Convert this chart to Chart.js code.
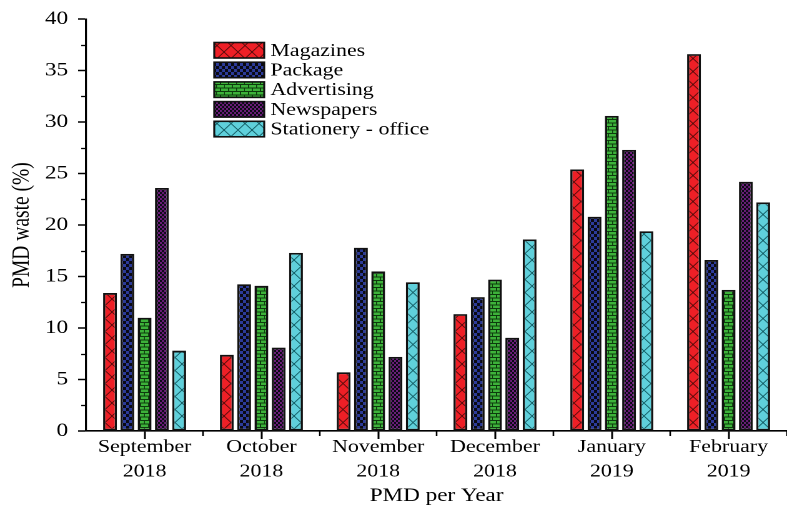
<!DOCTYPE html>
<html>
<head>
<meta charset="utf-8">
<script src="https://cdn.jsdelivr.net/npm/chart.js@4.4.1/dist/chart.umd.min.js"></script>
<style>
  html, body { margin: 0; padding: 0; background: #fff; overflow: hidden; }
  #wrap { width: 630px; height: 508px; transform: scaleX(1.2492); transform-origin: 0 0; }
  canvas { display: block; }
</style>
</head>
<body>
<div id="wrap"><canvas id="chart" width="630" height="508"></canvas></div>
<script>
// Monthly PMD waste shares (%), September 2018 - February 2019
const months = ['September', 'October', 'November', 'December', 'January', 'February'];
const years = ['2018', '2018', '2018', '2018', '2019', '2019'];
const seriesNames = ['Magazines', 'Package', 'Advertising', 'Newspapers', 'Stationery - office'];
const magazines   = [13.4, 7.4, 5.7, 11.35, 25.4, 36.6];
const packaging   = [17.2, 14.25, 17.8, 13.0, 20.8, 16.6];
const advertising = [11.0, 14.1, 15.5, 14.7, 30.6, 13.7];
const newspapers  = [23.6, 8.1, 7.2, 9.05, 27.3, 24.2];
const stationery  = [7.8, 17.3, 14.45, 18.6, 19.4, 22.2];
const yTicks = [0, 5, 10, 15, 20, 25, 30, 35, 40];

const SX = 1.2492;           // horizontal stretch applied to the wrapper
const FONT = "'Liberation Serif', 'Times New Roman', serif";

// ---- hatch fills -------------------------------------------------------
function makeTile(w, h, draw) {
  const c = document.createElement('canvas');
  c.width = w * 4; c.height = h * 4;
  const g = c.getContext('2d');
  g.scale(4, 4);
  draw(g, w, h);
  const p = document.createElement('canvas').getContext('2d').createPattern(c, 'repeat');
  p.setTransform(new DOMMatrix([0.25 / SX, 0, 0, 0.25, 0, 0]));
  return p;
}
function crossHatch(fill, line) {
  return makeTile(14, 13, (g, w, h) => {
    g.fillStyle = fill; g.fillRect(0, 0, w, h);
    g.strokeStyle = line; g.lineWidth = 0.9;
    g.beginPath();
    g.moveTo(0, 0); g.lineTo(w, h);
    g.moveTo(w, 0); g.lineTo(0, h);
    g.stroke();
  });
}
function checker(fill, cell) {
  return makeTile(cell * 2, cell * 2, (g, w, h) => {
    g.fillStyle = fill; g.fillRect(0, 0, w, h);
    g.fillStyle = '#0a0a14';
    g.fillRect(0, 0, cell, cell);
    g.fillRect(cell, cell, cell, cell);
  });
}
function bricks(fill, line) {
  return makeTile(8, 7, (g, w, h) => {
    g.fillStyle = fill; g.fillRect(0, 0, w, h);
    g.fillStyle = line;
    g.fillRect(0, 0, w, 1);
    g.fillRect(0, 3.5, w, 1);
    g.fillRect(0, 0, 1, 3.5);
    g.fillRect(4, 3.5, 1, 3.5);
  });
}

const fills = [
  crossHatch('#ee1f26', '#5a0c0c'),
  checker('#2c3b9a', 3),
  bricks('#3db23a', '#0d3a0d'),
  checker('#6a1d78', 2),
  crossHatch('#5fd0db', '#145e66')
];
const values = [magazines, packaging, advertising, newspapers, stationery];

// ---- minor ticks + legend ---------------------------------------------
const decorations = {
  id: 'decorations',
  afterDraw(chart) {
    const ctx = chart.ctx;
    const x = chart.scales.x, y = chart.scales.y;
    ctx.save();
    ctx.strokeStyle = '#000';
    // y minor ticks
    ctx.lineWidth = 1.3;
    for (let v = 2.5; v < 40; v += 5) {
      const py = Math.round(y.getPixelForValue(v)) + 0.5;
      ctx.beginPath(); ctx.moveTo(x.left - 4, py); ctx.lineTo(x.left, py); ctx.stroke();
    }
    // x minor ticks at category boundaries
    for (let i = 0; i < months.length; i++) {
      const px = (x.getPixelForValue(i) + x.getPixelForValue(i + 1)) / 2;
      ctx.beginPath(); ctx.moveTo(px, y.bottom); ctx.lineTo(px, y.bottom + 5); ctx.stroke();
    }
    // legend
    const bx = 171.5, bw = 40, bh = 15.5, top0 = 42.5, step = 19.7;
    ctx.font = '17.5px ' + FONT;
    ctx.textBaseline = 'middle';
    ctx.textAlign = 'left';
    chart.data.datasets.forEach((ds, i) => {
      const ty = top0 + i * step;
      ctx.fillStyle = ds.backgroundColor;
      ctx.fillRect(bx, ty, bw, bh);
      ctx.lineWidth = 1.6;
      ctx.strokeStyle = '#111';
      ctx.strokeRect(bx, ty, bw, bh);
      ctx.fillStyle = '#000';
      ctx.fillText(ds.label, bx + 45, ty + bh / 2 + 1);
    });
    ctx.restore();
  }
};

new Chart(document.getElementById('chart'), {
  type: 'bar',
  data: {
    labels: months.map((m, i) => [m, years[i]]),
    datasets: seriesNames.map((name, i) => ({
      label: name,
      data: values[i],
      backgroundColor: fills[i],
      borderColor: '#111',
      borderWidth: 1.8,
      borderSkipped: false,
      categoryPercentage: 0.74,
      barPercentage: 0.8
    }))
  },
  options: {
    responsive: false,
    animation: false,
    devicePixelRatio: 2,
    layout: { padding: { top: 19, right: -7, left: 0, bottom: 0 } },
    plugins: { legend: { display: false }, tooltip: { enabled: false } },
    scales: {
      x: {
        offset: true,
        grid: { display: true, offset: false, drawOnChartArea: false, drawTicks: true,
                tickLength: 8, color: '#000', tickWidth: 1.5 },
        border: { display: true, color: '#000', width: 1.6 },
        ticks: { color: '#000', font: { family: FONT, size: 17.5, lineHeight: 1.4 },
                 padding: -4, autoSkip: false, maxRotation: 0, minRotation: 0 },
        title: { display: true, text: 'PMD per Year', color: '#000',
                 font: { family: FONT, size: 18.5 }, padding: { top: 0, bottom: 1 } },
        afterFit(s) { s.height = 77; s.paddingLeft = 0; s.paddingRight = 0; }
      },
      y: {
        min: 0, max: 40,
        afterBuildTicks(s) { s.ticks = yTicks.map(v => ({ value: v })); },
        grid: { display: true, drawOnChartArea: false, drawTicks: true,
                tickLength: 6.5, color: '#000', tickWidth: 1.5 },
        border: { display: true, color: '#000', width: 1.6 },
        ticks: { color: '#000', font: { family: FONT, size: 18.5 }, padding: 8 },
        title: { display: true, text: 'PMD waste (%)', color: '#000',
                 font: { family: FONT, size: 19.5 }, padding: { top: 6, bottom: 0 } },
        afterFit(s) { s.width = 69; }
      }
    }
  },
  plugins: [decorations]
});
</script>
</body>
</html>
